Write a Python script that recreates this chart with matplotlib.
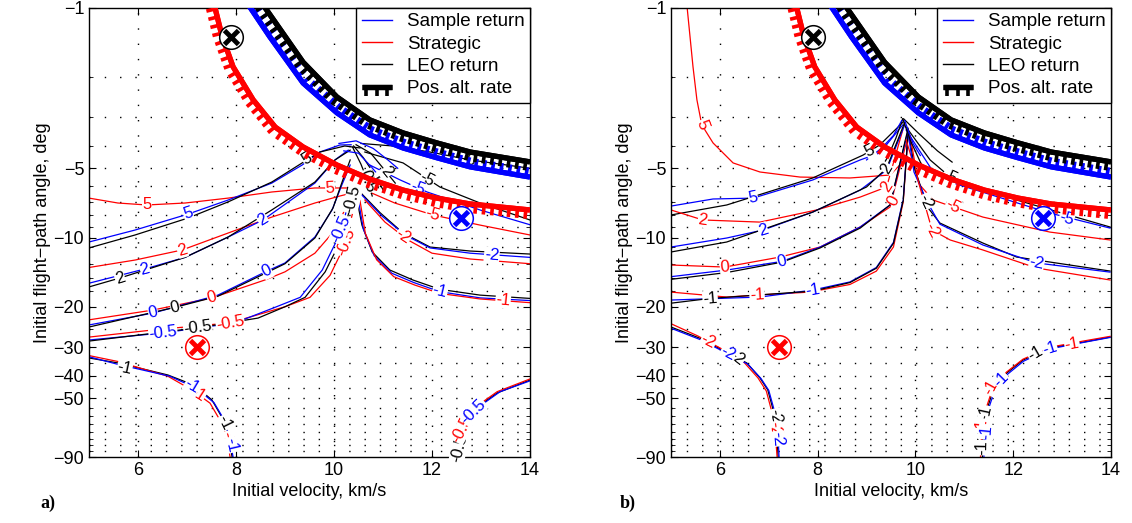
import numpy as np
import matplotlib
matplotlib.use('Agg')
import matplotlib.pyplot as plt
import matplotlib.patheffects as pe
from matplotlib.lines import Line2D

plt.rcParams['font.family'] = ['Liberation Sans', 'DejaVu Sans']

# ---------------- data (velocity km/s, flight-path angle deg) ----------------
X_TICKS = [6, 8, 10, 12, 14]
Y_TICKS = [-1, -5, -10, -20, -30, -40, -50, -90]
Y_TICKLABELS = ['\u22121', '\u22125', '\u221210', '\u221220', '\u221230', '\u221240', '\u221250', '\u221290']
GRID_ROWS = [-2, -3, -4, -5, -6, -7, -8, -9, -10, -11, -13, -15, -17, -20, -25, -30,
             -35, -40, -45, -50, -55, -60, -65, -70, -75, -80, -85]
GRID_COLS = [6, 8, 10, 12]

# boundaries of positive altitude rate (same in both panels)
BOUND_RED = ([7.50, 7.57, 7.71, 7.94, 8.35, 8.80, 9.37, 10.06, 10.73, 11.41, 12.10, 12.78, 14.0],
             [-0.9, -1.0, -1.32, -1.81, -2.52, -3.31, -4.04, -4.84, -5.57, -6.22, -6.74, -7.15, -7.59])
BOUND_BLUE = ([8.22, 8.29, 8.69, 9.37, 10.06, 10.73, 11.41, 12.10, 12.78, 14.0],
              [-0.95, -1.0, -1.34, -2.13, -2.87, -3.58, -4.08, -4.50, -4.93, -5.46])
BOUND_BLACK = ([8.53, 8.59, 9.37, 10.06, 10.73, 11.41, 12.10, 12.78, 14.0],
               [-0.95, -1.0, -1.73, -2.45, -3.08, -3.51, -3.88, -4.25, -4.69])

# design points (circled crosses)
MARK_V = [7.9, 7.2, 12.6]
MARK_G = [-1.34, -30.0, -8.2]
MARK_C = ['k', 'r', 'b']

# ---- panel a) contour lines ----
A_RED_5 = ([5.0, 5.59, 6.18, 6.96, 7.84, 8.73, 9.61, 10.33, 10.49], [-6.74, -7.08, -7.22, -7.08, -6.74, -6.34, -6.09, -6.09, -6.34])
A_BLUE_5 = ([5.0, 5.94, 7.02, 7.84, 8.73, 9.35, 9.71, 10.12, 10.35], [-10.46, -9.28, -7.91, -6.87, -5.80, -4.84, -4.25, -3.96, -3.95])
A_BLACK_5 = ([5.0, 5.94, 7.02, 7.84, 8.73, 9.35, 9.71, 10.22, 10.53], [-11.1, -9.75, -8.23, -7.0, -5.74, -4.74, -4.25, -4.0, -4.08])
A_RED_2 = ([5.0, 5.94, 6.90, 7.84, 8.73, 9.61, 10.12, 10.45], [-13.5, -12.53, -11.33, -9.56, -8.15, -7.08, -6.6, -6.34])
A_BLUE_2 = ([5.0, 6.14, 6.96, 7.84, 8.55, 9.61, 10.02, 10.29], [-15.8, -13.7, -12.2, -9.95, -8.39, -5.8, -4.6, -4.17])
A_BLACK_2 = ([5.0, 5.63, 6.96, 7.84, 8.73, 9.61, 10.02, 10.33], [-16.4, -15.0, -12.2, -9.95, -7.59, -5.74, -4.6, -4.17])
A_RED_0 = ([5.0, 6.29, 7.51, 8.59, 9.0, 9.61, 10.02, 10.22, 10.37], [-22.8, -20.7, -18.3, -15.3, -14.1, -11.7, -9.28, -7.59, -6.54])
A_BLUE_0 = ([5.0, 6.31, 7.63, 8.63, 9.0, 9.61, 9.96, 10.16, 10.33], [-24.0, -21.3, -17.8, -14.0, -12.9, -9.95, -7.59, -5.91, -4.84])
A_BLACK_0 = ([5.0, 6.76, 7.63, 8.63, 9.0, 9.61, 9.98, 10.18, 10.33], [-24.5, -20.1, -18.0, -14.2, -13.0, -10.05, -7.44, -5.62, -4.60])
A_RED_M05 = ([5.0, 6.29, 7.88, 9.0, 9.51, 9.92, 10.22, 10.37, 10.47], [-27.1, -25.25, -23.5, -20.0, -18.2, -14.6, -10.8, -7.98, -6.54])
A_BLUE_M05 = ([5.0, 6.51, 7.98, 8.80, 9.31, 9.76, 10.06, 10.22, 10.33], [-27.9, -26.0, -23.5, -20.1, -18.2, -13.85, -10.25, -8.15, -6.54])
A_BLACK_M05 = ([5.0, 7.22, 8.45, 9.0, 9.41, 9.82, 10.12, 10.29, 10.41], [-28.2, -24.7, -22.4, -20.0, -18.2, -14.1, -10.5, -7.98, -6.22])
A_BLACK_M1 = ([10.45, 10.57, 10.78, 11.14, 11.61, 12.16, 12.98, 14.0], [-6.54, -8.83, -11.56, -13.85, -15.3, -16.8, -17.8, -18.4])
A_BLUE_M1 = ([10.49, 10.60, 10.82, 11.18, 11.63, 12.16, 12.98, 14.0], [-6.74, -9.2, -12.0, -14.3, -15.7, -17.2, -18.3, -18.8])
A_RED_M1 = ([10.53, 10.64, 10.87, 11.22, 11.65, 12.16, 12.98, 14.0], [-6.9, -9.6, -12.5, -14.8, -16.1, -17.5, -18.5, -19.2])
A_BLACK_M2 = ([10.53, 10.94, 11.41, 11.96, 12.78, 14.0], [-6.34, -7.8, -9.56, -11.0, -11.45, -11.8])
A_BLUE_M2 = ([10.57, 10.98, 11.45, 11.96, 12.78, 14.0], [-6.54, -8.07, -9.75, -11.1, -11.7, -12.2])
A_RED_M2 = ([10.63, 11.04, 11.51, 12.0, 12.78, 14.0], [-6.87, -8.57, -10.25, -11.7, -12.4, -13.0])
A_BLACK_M5 = ([10.63, 11.41, 12.16, 12.98, 14.0], [-4.25, -4.74, -6.03, -7.08, -8.39])
A_BLUE_M5 = ([10.73, 11.35, 11.90, 12.98, 14.0], [-4.84, -5.62, -6.34, -7.59, -8.8])
A_RED_M5 = ([10.63, 11.24, 12.02, 12.98, 14.0], [-6.22, -7.08, -7.98, -8.83, -9.75])
A_BLACK_0R = ([10.55, 11.2, 11.96, 12.78, 14.0], [-3.9, -4.0, -4.25, -4.6, -5.0])
A_BLACK_M1B = ([5.0, 5.59, 6.61, 7.16, 7.51, 7.71, 7.84, 7.92], [-33.4, -35.1, -39.6, -44.0, -50.9, -60.3, -70.8, -90])
A_RED_M1B = ([5.0, 5.59, 6.61, 7.10, 7.47, 7.67, 7.80, 7.88], [-32.6, -34.6, -40.1, -46.0, -52.5, -62.1, -72.2, -90])
A_BLUE_M1B = ([5.0, 5.59, 6.65, 7.18, 7.55, 7.76, 7.88, 7.94], [-33.0, -35.6, -40.1, -45.1, -52.2, -62.1, -75.9, -90])
A_BLACK_M05B = ([12.51, 12.61, 12.71, 12.92, 13.33, 14.0], [-90, -73.7, -64.1, -54.6, -47.4, -41.65])
A_RED_M05B = ([12.47, 12.57, 12.69, 12.92, 13.33, 14.0], [-90, -74.8, -64.1, -54.0, -46.8, -41.2])
A_BLUE_M05B = ([12.55, 12.65, 12.77, 12.98, 13.39, 14.0], [-90, -73.7, -63.0, -54.0, -46.8, -42.0])
A_FAN_K1 = ([10.40, 10.60, 10.87, 11.00], [-4.0, -4.5, -5.5, -6.2])
A_FAN_K2 = ([10.45, 10.75, 11.07, 11.25], [-3.95, -4.3, -5.2, -5.8])
A_FAN_K05 = ([10.38, 10.55, 10.69, 10.78], [-4.05, -4.8, -5.7, -6.6])
A_FAN_B1 = ([10.1, 10.45, 10.8, 11.1, 11.3], [-3.9, -3.8, -4.1, -4.6, -5.0])
A_FAN_B2 = ([10.2, 10.5, 10.75, 10.95], [-4.2, -4.3, -4.9, -5.5])

# ---- panel b) contour lines ----
B_RED_5 = ([5.32, 5.33, 5.45, 5.53, 5.63, 5.86, 6.27, 6.82, 7.64, 8.66, 9.48, 9.68], [-0.9, -1.0, -1.81, -2.52, -3.24, -3.88, -4.74, -5.19, -5.46, -5.51, -5.35, -4.84])
B_BLUE_5 = ([5.0, 5.86, 6.68, 7.90, 8.87, 9.27, 9.74], [-7.3, -6.8, -6.74, -5.62, -4.6, -4.29, -3.24])
B_BLACK_5 = ([5.0, 6.14, 7.90, 8.93, 9.27, 9.74], [-7.98, -7.22, -5.51, -4.38, -3.96, -3.16])
B_RED_2 = ([5.0, 5.65, 6.82, 7.98, 8.87, 9.41, 9.74], [-7.59, -8.39, -8.57, -7.59, -6.67, -6.03, -3.41])
B_BLUE_2 = ([5.0, 6.14, 6.88, 7.90, 8.87, 9.41, 9.78], [-11.0, -10.05, -9.28, -7.75, -6.22, -5.09, -3.24])
B_BLACK_2 = ([5.0, 6.14, 7.90, 9.0, 9.41, 9.78], [-11.56, -10.46, -7.75, -6.03, -5.0, -3.16])
B_RED_0 = ([5.0, 6.10, 7.23, 8.05, 8.87, 9.48, 9.85], [-13.17, -13.44, -12.16, -11.0, -9.0, -7.37, -3.6])
B_BLUE_0 = ([5.0, 6.14, 7.27, 8.05, 8.87, 9.48, 9.85], [-14.8, -13.85, -12.7, -11.0, -9.0, -7.22, -3.41])
B_BLACK_0 = ([5.0, 6.14, 7.27, 8.05, 8.87, 9.48, 9.85], [-15.2, -14.2, -12.8, -11.1, -9.1, -7.22, -3.35])
B_RED_M1 = ([5.0, 6.14, 6.76, 7.84, 8.66, 9.2, 9.55, 9.75, 9.85], [-17.27, -18.15, -17.79, -17.27, -16.0, -14.0, -11.0, -7.0, -3.6])
B_BLUE_M1 = ([5.0, 6.82, 7.90, 8.66, 9.2, 9.55, 9.75, 9.85], [-18.7, -18.15, -16.92, -15.6, -13.5, -10.5, -6.8, -3.5])
B_BLACK_M1 = ([5.0, 5.80, 7.90, 8.66, 9.2, 9.55, 9.75, 9.85], [-19.3, -18.4, -17.1, -15.7, -13.6, -10.6, -6.9, -3.5])
B_BLACK_M5 = ([9.81, 10.30, 10.71, 12.07, 13.98], [-3.31, -4.6, -5.46, -6.87, -9.0])
B_BLUE_M5 = ([9.81, 10.34, 10.71, 12.75, 13.98], [-3.41, -5.09, -5.74, -7.83, -9.1])
B_RED_M5 = ([9.81, 10.09, 10.36, 11.38, 12.75, 13.98], [-3.77, -5.91, -6.87, -8.15, -9.47, -10.25])
B_BLACK_M2 = ([9.85, 9.99, 10.26, 10.50, 11.38, 12.07, 13.98], [-3.41, -5.09, -7.44, -8.65, -10.57, -12.16, -13.99])
B_BLUE_M2 = ([9.85, 9.97, 10.24, 10.50, 11.38, 12.48, 13.98], [-3.5, -5.19, -7.0, -8.75, -10.78, -12.9, -14.14])
B_RED_M2 = ([9.89, 10.05, 10.34, 10.71, 11.38, 12.48, 13.98], [-3.6, -5.62, -9.28, -10.25, -11.33, -13.57, -15.3])
B_BLACK_M2B = ([5.0, 5.59, 6.14, 6.55, 6.82, 6.98, 7.09, 7.17, 7.19], [-24.5, -27.4, -31.6, -35.1, -40.8, -46.0, -56.2, -73.7, -90])
B_RED_M2B = ([5.0, 5.55, 6.10, 6.50, 6.78, 6.95, 7.06, 7.14, 7.17], [-23.7, -26.8, -31.0, -35.0, -40.8, -46.5, -57.0, -74.0, -90])
B_BLUE_M2B = ([5.0, 5.60, 6.16, 6.57, 6.84, 7.00, 7.11, 7.19, 7.21], [-24.8, -27.8, -32.0, -35.5, -41.0, -46.2, -56.2, -73.7, -90])
B_BLACK_M1B = ([11.37, 11.38, 11.46, 11.59, 11.87, 12.20, 12.75, 13.43, 13.98], [-90, -73.7, -56.2, -46.0, -38.8, -34.1, -30.2, -28.5, -27.1])
B_RED_M1B = ([11.33, 11.35, 11.43, 11.57, 11.86, 12.20, 12.75, 13.43, 13.98], [-90, -74.0, -56.5, -46.0, -38.5, -33.8, -30.0, -28.2, -26.9])
B_BLUE_M1B = ([11.40, 11.41, 11.49, 11.62, 11.89, 12.21, 12.75, 13.43, 13.98], [-90, -73.7, -56.0, -46.2, -39.2, -34.5, -30.5, -28.6, -27.2])
B_FAN_K1 = ([9.74, 9.90, 10.10, 10.25], [-3.05, -3.8, -4.7, -5.3])
B_FAN_K2 = ([9.74, 9.60, 9.45, 9.30], [-3.05, -3.7, -4.4, -5.0])
B_FAN_K3 = ([9.76, 10.05, 10.45, 10.75], [-3.05, -3.5, -4.2, -4.7])
B_FAN_B1 = ([9.72, 9.55, 9.30, 9.00], [-3.1, -3.6, -4.1, -4.6])
B_FAN_B2 = ([9.78, 9.95, 10.10], [-3.1, -3.9, -4.4])

# (color, curve, labels as (v, gamma, text))
PANEL_A = [
    ('r', A_RED_5, [(6.18, -7.22, '5'), (9.92, -6.09, '5')]),
    ('b', A_BLUE_5, [(7.02, -7.85, '5')]),
    ('k', A_BLACK_5, [(9.45, -4.55, '5')]),
    ('r', A_RED_2, [(6.90, -11.33, '2')]),
    ('b', A_BLUE_2, [(6.14, -13.7, '2'), (8.55, -8.39, '2')]),
    ('k', A_BLACK_2, [(5.63, -15.0, '2')]),
    ('r', A_RED_0, [(7.51, -18.3, '0')]),
    ('b', A_BLUE_0, [(6.31, -21.3, '0'), (8.63, -14.0, '0')]),
    ('k', A_BLACK_0, [(6.76, -20.1, '0')]),
    ('r', A_RED_M05, [(7.88, -23.5, '-0.5'), (10.24, -10.5, '-0.5')]),
    ('b', A_BLUE_M05, [(6.51, -26.0, '-0.5'), (10.14, -9.2, '-0.5')]),
    ('k', A_BLACK_M05, [(7.22, -24.7, '-0.5'), (10.38, -6.8, '-0.5')]),
    ('k', A_BLACK_M1, []),
    ('b', A_BLUE_M1, [(12.16, -17.2, '-1')]),
    ('r', A_RED_M1, [(13.45, -18.8, '-1')]),
    ('k', A_BLACK_M2, []),
    ('b', A_BLUE_M2, [(13.22, -11.9, '-2')]),
    ('r', A_RED_M2, [(11.41, -9.9, '-2')]),
    ('k', A_BLACK_M5, [(11.90, -5.6, '-5')]),
    ('b', A_BLUE_M5, [(11.70, -6.1, '-5')]),
    ('r', A_RED_M5, [(12.02, -7.98, '-5')]),
    ('k', A_BLACK_0R, [(12.78, -4.6, '0')]),
    ('k', A_BLACK_M1B, [(5.73, -36.8, '-1'), (7.76, -64.0, '-1')]),
    ('r', A_RED_M1B, [(7.22, -48.0, '-1'), (7.82, -75.0, '-1')]),
    ('b', A_BLUE_M1B, [(7.10, -44.2, '-1'), (7.90, -80.0, '-1')]),
    ('k', A_BLACK_M05B, [(12.56, -82.0, '-0.5')]),
    ('r', A_RED_M05B, [(12.62, -68.0, '-0.5')]),
    ('b', A_BLUE_M05B, [(12.85, -57.0, '-0.5')]),
    ('k', A_FAN_K1, [(10.87, -5.5, '1')]),
    ('k', A_FAN_K2, [(11.07, -5.2, '2')]),
    ('k', A_FAN_K05, [(10.69, -5.7, '0.5')]),
    ('b', A_FAN_B1, []),
    ('b', A_FAN_B2, []),
]

PANEL_B = [
    ('r', B_RED_5, [(5.63, -3.24, '5')]),
    ('b', B_BLUE_5, [(6.68, -6.74, '5')]),
    ('k', B_BLACK_5, [(9.07, -4.2, '5')]),
    ('r', B_RED_2, [(5.65, -8.39, '2'), (9.41, -6.03, '2')]),
    ('b', B_BLUE_2, [(6.88, -9.28, '2')]),
    ('k', B_BLACK_2, [(9.41, -5.0, '2')]),
    ('r', B_RED_0, [(6.10, -13.44, '0'), (9.55, -6.9, '0')]),
    ('b', B_BLUE_0, [(7.27, -12.7, '0')]),
    ('k', B_BLACK_0, []),
    ('r', B_RED_M1, [(6.76, -17.79, '-1')]),
    ('b', B_BLUE_M1, [(7.90, -16.92, '-1')]),
    ('k', B_BLACK_M1, [(5.80, -18.4, '-1')]),
    ('k', B_BLACK_M5, [(10.71, -5.46, '-5')]),
    ('b', B_BLUE_M5, [(13.09, -8.3, '-5')]),
    ('r', B_RED_M5, [(10.77, -7.3, '-5')]),
    ('k', B_BLACK_M2, [(10.20, -7.0, '-2')]),
    ('b', B_BLUE_M2, [(12.48, -12.9, '-2')]),
    ('r', B_RED_M2, [(10.34, -9.28, '-2')]),
    ('k', B_BLACK_M2B, [(6.35, -33.3, '-2'), (7.12, -60.0, '-2')]),
    ('r', B_RED_M2B, [(5.76, -28.3, '-2'), (7.12, -68.0, '-2')]),
    ('b', B_BLUE_M2B, [(6.16, -32.0, '-2'), (7.18, -75.0, '-2')]),
    ('k', B_BLACK_M1B, [(12.45, -32.0, '-1'), (11.44, -58.0, '-1'), (11.37, -82.0, '-1')]),
    ('r', B_RED_M1B, [(13.2, -29.0, '-1'), (11.55, -45.0, '-1'), (11.36, -66.0, '-1')]),
    ('b', B_BLUE_M1B, [(12.75, -30.5, '-1'), (11.75, -41.5, '-1'), (11.45, -70.0, '-1')]),
    ('k', B_FAN_K1, []),
    ('k', B_FAN_K2, []),
    ('k', B_FAN_K3, []),
    ('b', B_FAN_B1, []),
    ('b', B_FAN_B2, []),
]

COLORS = {'r': (1, 0, 0), 'b': (0, 0, 1), 'k': (0, 0, 0)}


def fwd(y):
    y = np.asarray(y, dtype=float)
    return np.log10(np.clip(-y, 1e-6, None))


def inv(t):
    return -10.0 ** np.asarray(t, dtype=float)


def label_angle(ax, v, g, lv, lg):
    pts = ax.transData.transform(np.column_stack([v, g]))
    p = ax.transData.transform([[lv, lg]])[0]
    i = int(np.argmin(np.hypot(pts[:, 0] - p[0], pts[:, 1] - p[1])))
    j0, j1 = max(i - 1, 0), min(i + 1, len(v) - 1)
    d = pts[j1] - pts[j0]
    ang = np.degrees(np.arctan2(d[1], d[0]))
    if ang > 90:
        ang -= 180
    if ang < -90:
        ang += 180
    return ang


def ticked(angle):
    return [pe.Normal(), pe.withTickedStroke(spacing=6.0, angle=angle, length=1.1, linewidth=2.6)]


def draw_panel(ax, curves):
    ax.set_xlim(5, 14)
    ax.set_yscale('function', functions=(fwd, inv))
    ax.set_ylim(-1, -90)

    for gy in GRID_ROWS:
        ax.axhline(gy, color='k', lw=1.0, ls=(0, (1, 10)), zorder=0.5)
    for gx in GRID_COLS:
        ax.axvline(gx, color='k', lw=1.0, ls=(0, (1, 10)), zorder=0.5)

    for c, (v, g), labels in curves:
        ax.plot(v, g, color=COLORS[c], lw=0.9, zorder=2)
        for lv, lg, s in labels:
            ang = label_angle(ax, v, g, lv, lg)
            ax.text(lv, lg, s, color=COLORS[c], fontsize=12, rotation=ang,
                    rotation_mode='anchor', ha='center', va='center', zorder=3,
                    bbox=dict(boxstyle='square,pad=0.02', fc='white', ec='none'))

    ax.plot(*BOUND_RED, color='r', lw=3.8, zorder=4, solid_capstyle='butt', path_effects=ticked(-90))
    ax.plot(*BOUND_BLUE, color='b', lw=3.8, zorder=4, solid_capstyle='butt', path_effects=ticked(90))
    ax.plot(*BOUND_BLACK, color='k', lw=3.8, zorder=4, solid_capstyle='butt', path_effects=ticked(-90))

    for mv, mg, mc in zip(MARK_V, MARK_G, MARK_C):
        ax.plot(mv, mg, 'o', ms=17, mfc='white', mec=COLORS[mc], mew=1.1, zorder=5)
        ax.plot(mv, mg, 'x', ms=10, mec=COLORS[mc], mew=3.5, zorder=6)

    ax.set_xticks(X_TICKS)
    ax.set_yticks(Y_TICKS)
    ax.set_yticklabels(Y_TICKLABELS)
    ax.set_yticks(GRID_ROWS, minor=True)
    ax.set_xticks([], minor=True)
    ax.tick_params(which='major', direction='in', length=5, width=0.8, labelsize=13,
                   top=True, right=True)
    ax.tick_params(which='minor', direction='in', length=3, width=0.6, right=True)
    for sp in ax.spines.values():
        sp.set_linewidth(1.0)
    ax.set_xlabel('Initial velocity, km/s', fontsize=13, labelpad=3)
    ax.set_ylabel('Initial flight\u2212path angle, deg', fontsize=13, labelpad=2)

    handles = [Line2D([], [], color='b', lw=1.0),
               Line2D([], [], color='r', lw=1.0),
               Line2D([], [], color='k', lw=1.0),
               Line2D([], [], color='k', lw=3.8, solid_capstyle='butt', path_effects=ticked(-90))]
    leg = ax.legend(handles, ['Sample return', 'Strategic', 'LEO return', 'Pos. alt. rate'],
                    loc='upper right', borderaxespad=0, fancybox=False, edgecolor='k',
                    framealpha=1, fontsize=13.5, handlelength=1.6, labelspacing=0.28,
                    borderpad=0.3, handletextpad=0.8)
    leg.get_frame().set_linewidth(1.0)
    leg.set_zorder(10)


fig = plt.figure(figsize=(11.32, 5.23), dpi=100)
ax_a = fig.add_axes([89 / 1132, 1 - 457 / 523, 441 / 1132, 449.5 / 523])
ax_b = fig.add_axes([671 / 1132, 1 - 457 / 523, 440 / 1132, 449.5 / 523])
draw_panel(ax_a, PANEL_A)
draw_panel(ax_b, PANEL_B)

fig.text(40 / 1132, 0.028, 'a)', fontsize=13, fontweight='bold', family='Liberation Serif')
fig.text(620 / 1132, 0.028, 'b)', fontsize=13, fontweight='bold', family='Liberation Serif')

fig.savefig('out.png', dpi=100)
